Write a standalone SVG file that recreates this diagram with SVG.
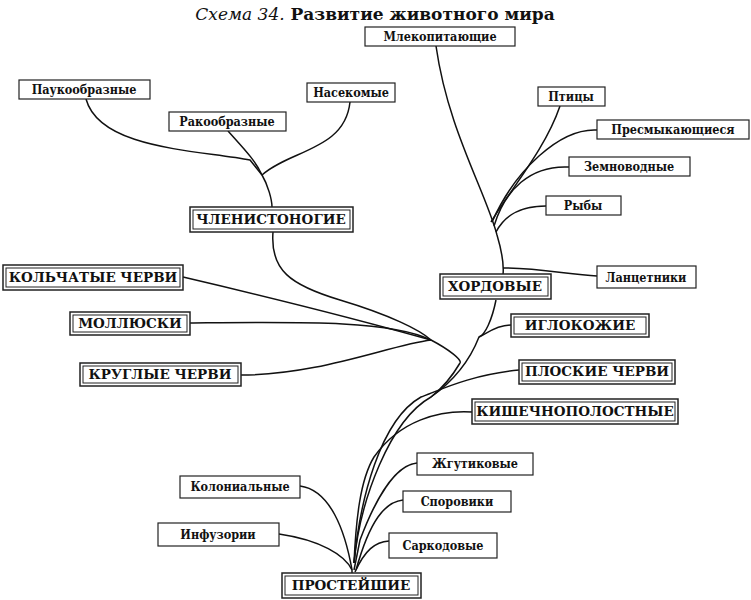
<svg xmlns="http://www.w3.org/2000/svg" width="751" height="600" viewBox="0 0 751 600">
<style>
.b{fill:#fff;stroke:#222;stroke-width:1.5}
.o{fill:#fff;stroke:#222;stroke-width:1.2}
.i{fill:none;stroke:#222;stroke-width:1}
.t{font-family:"DejaVu Serif","Liberation Serif",serif;font-size:12.5px;fill:#111;text-anchor:middle;font-weight:bold;font-stretch:condensed}
.T{font-family:"DejaVu Serif","Liberation Serif",serif;font-size:13.5px;font-weight:bold;fill:#111;text-anchor:middle}
.c path{fill:none;stroke:#111;stroke-width:1.5}
</style>
<text x="375" y="20" font-family="DejaVu Serif,Liberation Serif,serif" font-size="17" text-anchor="middle" fill="#111"><tspan font-style="italic">Схема 34.</tspan><tspan font-weight="bold"> Развитие животного мира</tspan></text>
<g class="c">
<path d="M436,46 C448,130 485,190 497,235 C503,255 504,265 503,275"/>
<path d="M560,106 C545,150 510,190 491,222"/>
<path d="M597,130 C560,128 515,170 492,222"/>
<path d="M569,167 C530,165 505,190 494,226"/>
<path d="M546,206 C520,206 505,215 496,232"/>
<path d="M503,268 C540,268 570,275 597,276"/>
<path d="M86,99 C100,150 200,150 250,160 L262,175"/>
<path d="M228,131 C245,150 255,160 262,175"/>
<path d="M350,102 C345,150 290,150 262,175 C268,185 272,200 272,207"/>
<path d="M273,232 C270,270 290,285 340,300 C390,315 420,330 431,340"/>
<path d="M183,277 C260,295 360,320 431,340"/>
<path d="M190,323 C300,322 390,320 431,340 C450,350 462,360 460,363"/>
<path d="M241,375 C320,375 390,345 431,340"/>
<path d="M460,363 C450,380 440,390 431,397 C390,420 360,500 354,563"/>
<path d="M496,300 C492,320 485,335 479,337 C470,360 455,380 431,397"/>
<path d="M511,325 C495,325 485,335 479,337"/>
<path d="M519,370 C470,375 440,390 421,397 C380,420 360,500 354,563"/>
<path d="M472,412 C440,410 400,420 374,457 C360,480 356,520 354,563"/>
<path d="M417,463 C395,465 375,500 360,540 L354,570"/>
<path d="M403,500 C385,502 370,520 356,570"/>
<path d="M389,541 C375,542 365,550 355,572"/>
<path d="M300,486 C330,490 345,530 352,570"/>
<path d="M279,534 C320,540 345,555 352,570 L352,575"/>
</g>
<g id="mlek"><rect class="o" x="365" y="27" width="150" height="19"/><text class="t" x="440" y="41">Млекопитающие</text></g>
<g id="pauk"><rect class="o" x="19" y="80" width="131" height="19"/><text class="t" x="84" y="94">Паукообразные</text></g>
<g id="nasek"><rect class="o" x="307" y="83" width="88" height="19"/><text class="t" x="351" y="97">Насекомые</text></g>
<g id="rak"><rect class="o" x="169" y="112" width="117" height="19"/><text class="t" x="227" y="126">Ракообразные</text></g>
<g id="ptic"><rect class="o" x="538" y="87" width="67" height="19"/><text class="t" x="571" y="101">Птицы</text></g>
<g id="presm"><rect class="o" x="597" y="120" width="152" height="19"/><text class="t" x="673" y="134">Пресмыкающиеся</text></g>
<g id="zemn"><rect class="o" x="569" y="157" width="121" height="19"/><text class="t" x="629" y="171">Земноводные</text></g>
<g id="ryby"><rect class="o" x="546" y="196" width="75" height="19"/><text class="t" x="583" y="210">Рыбы</text></g>
<g id="lanc"><rect class="o" x="597" y="266" width="99" height="22"/><text class="t" x="646" y="282">Ланцетники</text></g>
<g id="chlen"><rect class="b" x="190" y="207" width="163" height="25"/><rect class="i" x="193" y="210" width="157" height="19"/><text class="T" x="271" y="224">ЧЛЕНИСТОНОГИЕ</text></g>
<g id="kolch"><rect class="b" x="3" y="265" width="180" height="25"/><rect class="i" x="6" y="268" width="174" height="19"/><text class="T" x="93" y="282">КОЛЬЧАТЫЕ ЧЕРВИ</text></g>
<g id="hord"><rect class="b" x="440" y="274" width="111" height="25"/><rect class="i" x="443" y="277" width="105" height="19"/><text class="T" x="495" y="291">ХОРДОВЫЕ</text></g>
<g id="moll"><rect class="b" x="70" y="312" width="120" height="23"/><rect class="i" x="73" y="315" width="114" height="17"/><text class="T" x="130" y="328">МОЛЛЮСКИ</text></g>
<g id="igl"><rect class="b" x="511" y="314" width="138" height="23"/><rect class="i" x="514" y="317" width="132" height="17"/><text class="T" x="580" y="330">ИГЛОКОЖИЕ</text></g>
<g id="krug"><rect class="b" x="80" y="363" width="161" height="23"/><rect class="i" x="83" y="366" width="155" height="17"/><text class="T" x="160" y="379">КРУГЛЫЕ ЧЕРВИ</text></g>
<g id="plosk"><rect class="b" x="519" y="360" width="156" height="24"/><rect class="i" x="522" y="363" width="150" height="18"/><text class="T" x="597" y="376">ПЛОСКИЕ ЧЕРВИ</text></g>
<g id="kish"><rect class="b" x="472" y="399" width="206" height="25"/><rect class="i" x="475" y="402" width="200" height="19"/><text class="T" x="575" y="416">КИШЕЧНОПОЛОСТНЫЕ</text></g>
<g id="zhgut"><rect class="o" x="417" y="453" width="116" height="22"/><text class="t" x="475" y="468">Жгутиковые</text></g>
<g id="kolon"><rect class="o" x="180" y="476" width="120" height="22"/><text class="t" x="240" y="491">Колониальные</text></g>
<g id="spor"><rect class="o" x="403" y="491" width="108" height="21"/><text class="t" x="457" y="506">Споровики</text></g>
<g id="infuz"><rect class="o" x="158" y="523" width="121" height="23"/><text class="t" x="218" y="539">Инфузории</text></g>
<g id="sark"><rect class="o" x="389" y="533" width="108" height="25"/><text class="t" x="443" y="550">Саркодовые</text></g>
<g id="prost"><rect class="b" x="282" y="573" width="139" height="25"/><rect class="i" x="285" y="576" width="133" height="19"/><text class="T" x="351" y="590">ПРОСТЕЙШИЕ</text></g>
</svg>
